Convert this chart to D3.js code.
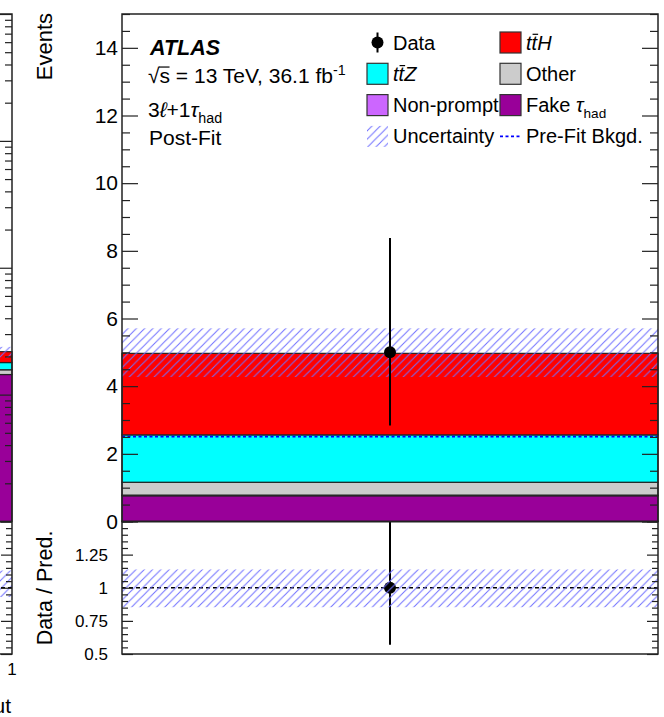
<!DOCTYPE html>
<html>
<head>
<meta charset="utf-8">
<script src="https://cdn.jsdelivr.net/npm/d3@7"></script>
<style>
  body { margin: 0; background: #fff; }
  text { font-family: "Liberation Sans", Arial, Helvetica, sans-serif; fill: #000; }
</style>
</head>
<body>
<div id="chart"></div>
<script>
// post-fit yields in the single 3l+1tau bin, stacked bottom -> top
const samples = ["Fake tau", "Non-prompt", "Other", "ttZ", "ttH"];
const yields  = [0.76, 0.02, 0.38, 1.40, 2.41];
const colors  = ["#990099", "#cc66ff", "#cccccc", "#00ffff", "#ff0000"];

const dataVal   = [5];
const dataErr   = [2.84, 8.38];      // poisson interval
const uncBand   = [4.27, 5.71];
const preFit    = [2.51];
const ratioVal  = [1.0];
const ratioErr  = [0.569, 1.686];
const ratioBand = [0.853, 1.138];

// neighbouring panel (last bin of the BDT output plot, log scale)
const leftYields   = [1.44, 0.13, 0.22, 0.39];
const leftColors   = ["#990099", "#cccccc", "#00ffff", "#ff0000"];
const leftBand     = [1.95, 2.38];
const leftRatioBand = [0.93, 1.13];

const yMajor = d3.range(0, 15, 2);
const yMinor = d3.range(0, 15.01, 0.5).filter(v => v % 2 !== 0);
const rMajor = [0.5, 0.75, 1, 1.25, 1.5];
const rLabels = ["0.5", "0.75", "1", "1.25", ""];
const rMinor = d3.range(0.5, 1.501, 0.05).filter(v => Math.abs(v * 4 - Math.round(v * 4)) > 1e-6);

const svg = d3.select("#chart").append("svg")
  .attr("width", 664).attr("height", 717);

const x  = d3.scaleLinear().domain([0, 1]).range([122, 658]);
const y  = d3.scaleLinear().domain([0, 15]).range([521.5, 14]);
const yr = d3.scaleLinear().domain([0.5, 1.5]).range([654, 521.5]);
const xl = d3.scaleLinear().domain([-1, 1]).range([12 - 536, 12]);
const yl = d3.scaleLog().domain([0.1, 1000]).range([521.5, 14]);

// hatch for the uncertainty band
const hs = 8.3;
svg.append("defs").append("pattern")
  .attr("id", "hatch").attr("patternUnits", "userSpaceOnUse")
  .attr("width", hs).attr("height", hs)
  .append("path")
  .attr("d", `M0,${hs} L${hs},0 M-1,1 L1,-1 M${hs - 1},${hs + 1} L${hs + 1},${hs - 1}`)
  .attr("stroke", "#6f6fff").attr("stroke-width", 1);

// ---------- left (cut) panel ----------
const left = svg.append("g");
let cum = 0;
leftYields.forEach((v, i) => {
  const lo = cum; cum += v;
  left.append("rect")
    .attr("x", xl(0.6)).attr("width", xl(1) - xl(0.6))
    .attr("y", yl(cum)).attr("height", (i === 0 ? yl.range()[0] : yl(lo)) - yl(cum))
    .attr("fill", leftColors[i]).attr("stroke", "#222").attr("stroke-width", 1.2);
});
left.append("rect")
  .attr("x", xl(0.6)).attr("width", xl(1) - xl(0.6))
  .attr("y", yl(leftBand[1])).attr("height", yl(leftBand[0]) - yl(leftBand[1]))
  .attr("fill", "url(#hatch)");
left.append("rect")
  .attr("x", xl(0.6)).attr("width", xl(1) - xl(0.6))
  .attr("y", yr(leftRatioBand[1])).attr("height", yr(leftRatioBand[0]) - yr(leftRatioBand[1]))
  .attr("fill", "url(#hatch)");
left.append("line")
  .attr("x1", xl(-1)).attr("x2", xl(1)).attr("y1", yr(1)).attr("y2", yr(1))
  .attr("stroke", "#000").attr("stroke-width", 1.4).attr("stroke-dasharray", "4,3");

function tickAxis(g, axis, scale, values, len, fmt, pad, size) {
  const a = g.append("g").call(axis(scale).tickValues(values)
      .tickSizeInner(-len).tickSizeOuter(0).tickPadding(pad)
      .tickFormat(fmt))
    .attr("font-size", size).attr("font-family", null);
  a.select(".domain").remove();
  a.selectAll("line").attr("stroke", "#222").attr("stroke-width", 1.2);
  return a;
}

const lMajor = [0.1, 1, 10, 100, 1000];
const lMinor = [];
[0.1, 1, 10, 100].forEach(d => d3.range(2, 10).forEach(k => lMinor.push(d * k)));
const lg = left.append("g").attr("transform", "translate(12,0)");
tickAxis(lg, d3.axisRight, yl, lMajor, 12, "", 0, 10);
tickAxis(lg, d3.axisRight, yl, lMinor, 7, "", 0, 10);
tickAxis(lg, d3.axisRight, yr, rMajor, 11, "", 0, 10);
tickAxis(lg, d3.axisRight, yr, rMinor, 6, "", 0, 10);
left.append("path")
  .attr("d", `M-5,14 H12 V654 H-5 M-5,521.5 H12`)
  .attr("fill", "none").attr("stroke", "#222").attr("stroke-width", 1.5);
left.append("text").attr("x", 12).attr("y", 675).attr("font-size", 17)
  .attr("text-anchor", "middle").text("1");
left.append("text").attr("x", 11).attr("y", 713).attr("font-size", 21)
  .attr("text-anchor", "end").text("BDT output");

// ---------- main panel ----------
const main = svg.append("g");
cum = 0;
yields.forEach((v, i) => {
  const lo = cum; cum += v;
  main.append("rect")
    .attr("x", x(0)).attr("width", x(1) - x(0))
    .attr("y", y(cum)).attr("height", y(lo) - y(cum))
    .attr("fill", colors[i]).attr("stroke", "#222").attr("stroke-width", 1.2);
});
main.append("line")
  .attr("x1", x(0)).attr("x2", x(1)).attr("y1", y(preFit[0])).attr("y2", y(preFit[0]))
  .attr("stroke", "#0000ff").attr("stroke-width", 1.6).attr("stroke-dasharray", "3,2.5");
main.append("rect")
  .attr("x", x(0)).attr("width", x(1) - x(0))
  .attr("y", y(uncBand[1])).attr("height", y(uncBand[0]) - y(uncBand[1]))
  .attr("fill", "url(#hatch)");
main.append("line")
  .attr("x1", x(0.5)).attr("x2", x(0.5)).attr("y1", y(dataErr[1])).attr("y2", y(dataErr[0]))
  .attr("stroke", "#000").attr("stroke-width", 2);
main.append("circle").attr("cx", x(0.5)).attr("cy", y(dataVal[0])).attr("r", 6).attr("fill", "#000");

// ratio panel
main.append("line")
  .attr("x1", x(0)).attr("x2", x(1)).attr("y1", yr(1)).attr("y2", yr(1))
  .attr("stroke", "#000").attr("stroke-width", 1.4).attr("stroke-dasharray", "4,3");
main.append("line")
  .attr("x1", x(0.5)).attr("x2", x(0.5))
  .attr("y1", yr(Math.min(ratioErr[1], 1.5))).attr("y2", yr(ratioErr[0]))
  .attr("stroke", "#000").attr("stroke-width", 2);
main.append("circle").attr("cx", x(0.5)).attr("cy", yr(ratioVal[0])).attr("r", 6).attr("fill", "#000");
main.append("rect")
  .attr("x", x(0)).attr("width", x(1) - x(0))
  .attr("y", yr(ratioBand[1])).attr("height", yr(ratioBand[0]) - yr(ratioBand[1]))
  .attr("fill", "url(#hatch)");

// axes (ticks inside on both sides)
const axL = main.append("g").attr("transform", `translate(${x(0)},0)`);
tickAxis(axL, d3.axisLeft, y, yMajor, 16, d3.format("d"), 4, 21);
tickAxis(axL, d3.axisLeft, y, yMinor, 8, "", 4, 21);
tickAxis(axL, d3.axisLeft, yr, rMajor, 11, (d, i) => rLabels[i], 14, 17);
tickAxis(axL, d3.axisLeft, yr, rMinor, 6, "", 14, 17);
const axR = main.append("g").attr("transform", `translate(${x(1)},0)`);
tickAxis(axR, d3.axisRight, y, yMajor, 16, "", 0, 10);
tickAxis(axR, d3.axisRight, y, yMinor, 8, "", 0, 10);
tickAxis(axR, d3.axisRight, yr, rMajor, 11, "", 0, 10);
tickAxis(axR, d3.axisRight, yr, rMinor, 6, "", 0, 10);

main.append("rect").attr("x", x(0)).attr("y", y(15))
  .attr("width", x(1) - x(0)).attr("height", y(0) - y(15))
  .attr("fill", "none").attr("stroke", "#222").attr("stroke-width", 1.5);
main.append("rect").attr("x", x(0)).attr("y", yr(1.5))
  .attr("width", x(1) - x(0)).attr("height", yr(0.5) - yr(1.5))
  .attr("fill", "none").attr("stroke", "#222").attr("stroke-width", 1.5);

svg.append("text").attr("transform", "translate(52,13) rotate(-90)")
  .attr("text-anchor", "end").attr("font-size", 22).text("Events");
svg.append("text").attr("transform", "translate(52,588) rotate(-90)")
  .attr("text-anchor", "middle").attr("font-size", 21.5).text("Data / Pred.");

// rich text: italic / sub / sup / overbar segments
function rich(g, tx, ty, segs, size) {
  const t = g.append("text").attr("x", tx).attr("y", ty).attr("font-size", size);
  let shift = 0, idx = 0;
  const bars = [];
  segs.forEach(sg => {
    const target = sg.sub ? size * 0.3 : sg.sup ? -size * 0.38 : 0;
    const ts = t.append("tspan").attr("dy", target - shift).text(sg.s);
    shift = target;
    if (sg.sub || sg.sup) ts.attr("font-size", size * 0.68);
    if (sg.it) ts.attr("font-style", "italic");
    if (sg.bold) ts.attr("font-weight", "bold");
    if (sg.bar) bars.push([idx, sg.bar]);
    idx += sg.s.length;
  });
  const node = t.node();
  bars.forEach(([i, off]) => {
    const e = node.getExtentOfChar(i);
    g.append("line")
      .attr("x1", e.x + off).attr("x2", e.x + e.width + off)
      .attr("y1", ty - size * 0.76).attr("y2", ty - size * 0.76)
      .attr("stroke", "#000").attr("stroke-width", 1.2);
  });
  return t;
}

const lab = svg.append("g");
rich(lab, 150, 55, [{ s: "ATLAS", it: true, bold: true }], 21.5);
rich(lab, 148, 83, [{ s: "√" }, { s: "s", bar: -0.5 }, { s: " = 13 TeV, 36.1 fb" }, { s: "-1", sup: true }], 21);
rich(lab, 148, 117, [{ s: "3" }, { s: "ℓ", it: true }, { s: "+1" }, { s: "τ", it: true }, { s: "had", sub: true }], 21);
rich(lab, 149, 145, [{ s: "Post-Fit" }], 21);

// legend
const legendItems = [
  { type: "data", segs: [{ s: "Data" }] },
  { type: "box", color: colors[4], segs: [{ s: "t", it: true }, { s: "t", it: true, bar: 1 }, { s: "H", it: true }] },
  { type: "box", color: colors[3], segs: [{ s: "t", it: true }, { s: "t", it: true, bar: 1 }, { s: "Z", it: true }] },
  { type: "box", color: colors[2], segs: [{ s: "Other" }] },
  { type: "box", color: colors[1], segs: [{ s: "Non-prompt" }] },
  { type: "box", color: colors[0], segs: [{ s: "Fake  " }, { s: "τ", it: true }, { s: "had", sub: true }] },
  { type: "hatch", segs: [{ s: "Uncertainty" }] },
  { type: "dash", segs: [{ s: "Pre-Fit Bkgd." }] }
];
const legCols = [367, 500], legRow0 = 42.5, legDy = 31.3;
const leg = svg.append("g");
legendItems.forEach((it, k) => {
  const cx = legCols[k % 2], cy = legRow0 + Math.floor(k / 2) * legDy;
  if (it.type === "box") {
    leg.append("rect").attr("x", cx).attr("y", cy - 10.5).attr("width", 21).attr("height", 21)
      .attr("fill", it.color).attr("stroke", "#333").attr("stroke-width", 1.2);
  } else if (it.type === "hatch") {
    leg.append("rect").attr("x", cx).attr("y", cy - 10.5).attr("width", 21).attr("height", 21)
      .attr("fill", "url(#hatch)");
  } else if (it.type === "dash") {
    leg.append("line").attr("x1", cx).attr("x2", cx + 22).attr("y1", cy).attr("y2", cy)
      .attr("stroke", "#0000ff").attr("stroke-width", 1.6).attr("stroke-dasharray", "3,2.5");
  } else {
    leg.append("line").attr("x1", cx + 10.5).attr("x2", cx + 10.5).attr("y1", cy - 10).attr("y2", cy + 10)
      .attr("stroke", "#000").attr("stroke-width", 2);
    leg.append("circle").attr("cx", cx + 10.5).attr("cy", cy).attr("r", 6).attr("fill", "#000");
  }
  rich(leg, cx + 26, cy + 7, it.segs, 20);
});
</script>
</body>
</html>
